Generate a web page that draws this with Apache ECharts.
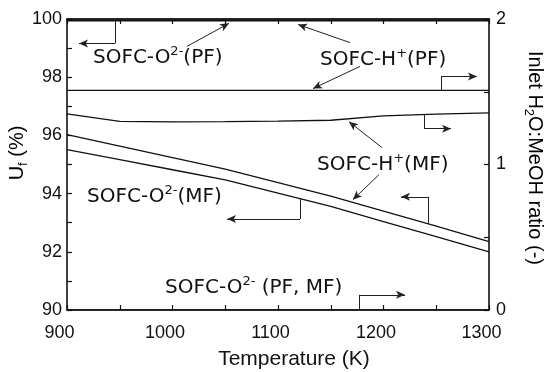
<!DOCTYPE html>
<html><head><meta charset="utf-8">
<script src="https://cdn.jsdelivr.net/npm/echarts@6/dist/echarts.min.js"></script>
<style>html,body{margin:0;padding:0;background:#fff}#c{width:548px;height:372px}</style>
</head><body><div id="c"></div>
<script>
var temps = [900, 950, 1000, 1050, 1100, 1150, 1200, 1250, 1300];
var ufO2PF = [100, 100, 100, 100, 100, 100, 100, 100, 100];
var ufHPF = [99.94, 99.94, 99.94, 99.94, 99.94, 99.94, 99.94, 99.94, 99.94];
var ufHMF = [96.03, 95.63, 95.24, 94.84, 94.38, 93.91, 93.40, 92.88, 92.35];
var ufO2MF = [95.51, 95.17, 94.82, 94.47, 94.02, 93.56, 93.04, 92.52, 92.00];
var ratioHPF = [1.51, 1.51, 1.51, 1.51, 1.51, 1.51, 1.51, 1.51, 1.51];
var ratioHMF = [1.348, 1.297, 1.293, 1.295, 1.298, 1.304, 1.334, 1.346, 1.355];
var ratioO2 = [0, 0, 0, 0, 0, 0, 0, 0, 0];
var xTickLabels = [900, 1000, 1100, 1200, 1300];
var yLeftLabels = [90, 92, 94, 96, 98, 100];
var yRightLabels = [0, 1, 2];

function pairs(xs, ys) { return xs.map(function (x, i) { return [x, ys[i]]; }); }

var FONT = 'Liberation Sans, Arial, sans-serif';
var AFONT = 'DejaVu Sans, Liberation Sans, sans-serif';
var chart = echarts.init(document.getElementById('c'), null, {renderer: 'canvas'});

// annotation geometry, in data units (T, Uf)
var arrows = [
  [[1013.7, 99.06], [1053.6, 99.85]],
  [[1168.2, 99.19], [1119.0, 99.81]],
  [[1177.7, 98.37], [1133.2, 97.61]],
  [[1198.6, 95.58], [1167.3, 96.47]],
  [[1195.7, 94.65], [1171.0, 93.79]]
];
var brackets = [
  [[945.5, 99.95], [945.5, 99.16], [911.4, 99.16]],
  [[1254.5, 97.55], [1254.5, 98.02], [1288.6, 98.02]],
  [[1238.4, 96.72], [1238.4, 96.23], [1264.0, 96.23]],
  [[1242.2, 92.96], [1242.2, 93.89], [1216.6, 93.89]],
  [[1120.9, 93.82], [1120.9, 93.13], [1051.7, 93.13]],
  [[1176.8, 90.0], [1176.8, 90.52], [1220.4, 90.52]]
];
var ml = [];
arrows.forEach(function (a) {
  ml.push([{coord: a[0], symbol: 'none'}, {coord: a[1], symbol: 'arrow'}]);
});
brackets.forEach(function (b) {
  ml.push([{coord: b[0], symbol: 'none'}, {coord: b[1], symbol: 'none'}]);
  ml.push([{coord: b[1], symbol: 'none'}, {coord: b[2], symbol: 'arrow'}]);
});

function lineSeries(name, data, yIdx, extra) {
  var s = {
    name: name, type: 'line', data: pairs(temps, data), yAxisIndex: yIdx,
    showSymbol: false, symbol: 'none', smooth: false, silent: true,
    lineStyle: {color: '#111', width: 1.3}, animation: false, z: 3
  };
  if (extra) for (var k in extra) s[k] = extra[k];
  return s;
}

var tickStyle = {inside: true, length: 5, lineStyle: {color: '#111', width: 1.2}};
var axLine = {show: true, lineStyle: {color: '#111', width: 1.6}};
var lblStyle = {color: '#111', fontSize: 18, fontFamily: FONT};

chart.setOption({
  animation: false,
  grid: {left: 67, right: 59, top: 19, bottom: 62, containLabel: false},
  xAxis: [
    {type: 'value', min: 900, max: 1300, interval: 50, position: 'bottom',
      axisLine: axLine, axisTick: tickStyle, splitLine: {show: false},
      axisLabel: Object.assign({margin: 14, padding: [0, 15, 0, 0], formatter: function (v) { return xTickLabels.indexOf(v) >= 0 ? String(v) : ''; }}, lblStyle)},
    {type: 'value', min: 900, max: 1300, interval: 50, position: 'top',
      axisLine: axLine, axisTick: tickStyle, splitLine: {show: false}, axisLabel: {show: false}}
  ],
  yAxis: [
    {type: 'value', min: 90, max: 100, interval: 1, position: 'left',
      axisLine: axLine, axisTick: tickStyle, splitLine: {show: false},
      axisLabel: Object.assign({margin: 5, formatter: function (v) { return yLeftLabels.indexOf(v) >= 0 ? String(v) : ''; }}, lblStyle)},
    {type: 'value', min: 0, max: 2, interval: 0.5, position: 'right',
      axisLine: axLine, axisTick: tickStyle, splitLine: {show: false},
      axisLabel: Object.assign({margin: 7, formatter: function (v) { return yRightLabels.indexOf(v) >= 0 ? String(v) : ''; }}, lblStyle)}
  ],
  series: [
    lineSeries('O2 PF Uf', ufO2PF, 0),
    lineSeries('H PF Uf', ufHPF, 0),
    lineSeries('H MF Uf', ufHMF, 0),
    lineSeries('O2 MF Uf', ufO2MF, 0, {
      markLine: {silent: true, animation: false, symbolSize: [6, 9],
        label: {show: false}, lineStyle: {color: '#222', width: 1, type: 'solid'},
        emphasis: {disabled: true}, data: ml}
    }),
    lineSeries('H PF ratio', ratioHPF, 1),
    lineSeries('H MF ratio', ratioHMF, 1),
    lineSeries('O2 ratio', ratioO2, 1)
  ]
});

var rich = {
  a: {fontSize: 20, fontFamily: AFONT, color: '#111'},
  s: {fontSize: 13, fontFamily: AFONT, color: '#111', verticalAlign: 'top', lineHeight: 25}
};
var labels = [
  ['{a|SOFC-O}{s|2-}{a|(PF)}', [924.6, 98.68]],
  ['{a|SOFC-H}{s|+}{a|(PF)}', [1139.8, 98.61]],
  ['{a|SOFC-H}{s|+}{a|(MF)}', [1137.0, 95.0]],
  ['{a|SOFC-O}{s|2-}{a|(MF)}', [919.0, 93.89]],
  ['{a|SOFC-O}{s|2-}{a| (PF, MF)}', [992.9, 90.76]]
];
var g = labels.map(function (l) {
  var p = chart.convertToPixel({xAxisIndex: 0, yAxisIndex: 0}, l[1]);
  return {type: 'text', x: p[0], y: p[1], z: 10,
    style: {text: l[0], rich: rich, align: 'left', verticalAlign: 'middle', fill: '#111'}};
});
var tRich = {
  a: {fontSize: 20, fontFamily: FONT, color: '#111'},
  b: {fontSize: 13, fontFamily: FONT, color: '#111', verticalAlign: 'bottom', lineHeight: 26}
};
g.push({type: 'text', x: 294, y: 359, style: {text: 'Temperature (K)', font: '21px ' + FONT, fill: '#111', align: 'center', verticalAlign: 'middle'}});
g.push({type: 'text', x: 17, y: 153, rotation: Math.PI / 2,
  style: {text: '{a|U}{b|f}{a| (%)}', rich: tRich, align: 'center', verticalAlign: 'middle'}});
g.push({type: 'text', x: 535, y: 158, rotation: -Math.PI / 2,
  style: {text: '{a|Inlet H}{b|2}{a|O:MeOH ratio (-)}', rich: tRich, align: 'center', verticalAlign: 'middle'}});
chart.setOption({graphic: g});
</script></body></html>
